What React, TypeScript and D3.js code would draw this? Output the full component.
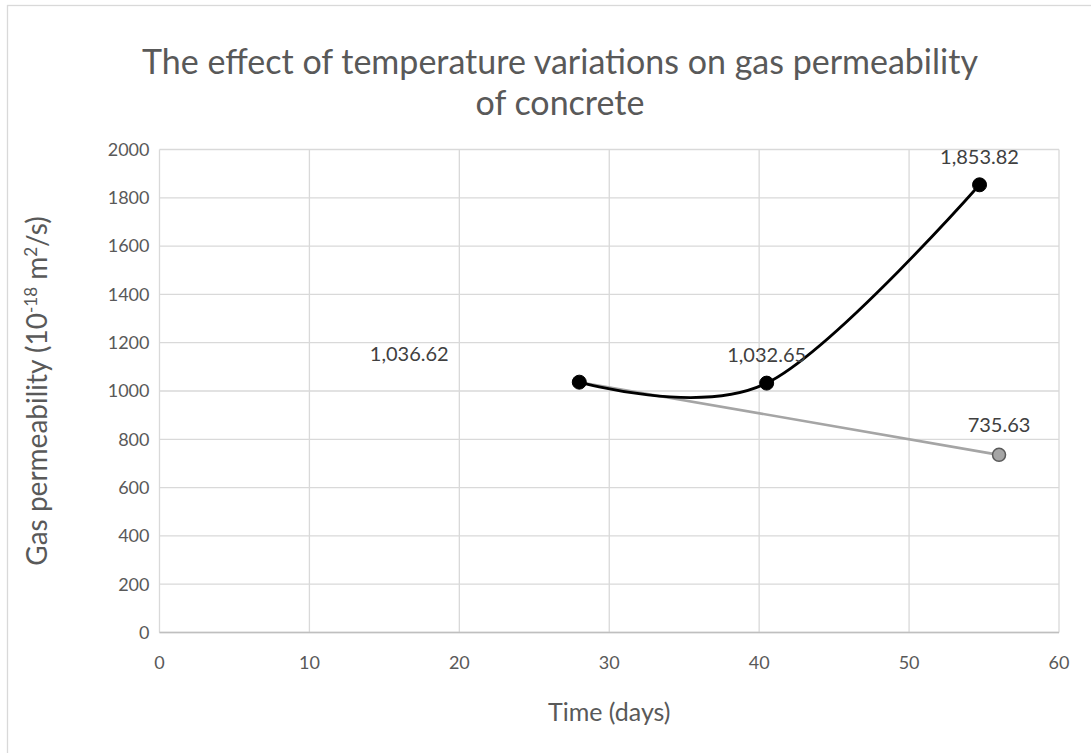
import * as d3 from 'd3';

// series
const blackDays = [28, 40.5, 54.7];
const blackPerm = [1036.62, 1032.65, 1853.82];
const grayDays = [28, 56];
const grayPerm = [1036.62, 735.63];

const xTicks = [0, 10, 20, 30, 40, 50, 60];
const yTicks = [0, 200, 400, 600, 800, 1000, 1200, 1400, 1600, 1800, 2000];

const titleLines = ['The effect of temperature variations on gas permeability', 'of concrete'];

const width = 1091;
const height = 753;
const font = 'Lato, "Open Sans", sans-serif';

export default function App() {
  const margin = { top: 149.5, right: 32, bottom: 120.5, left: 159.5 };
  const innerW = width - margin.left - margin.right;
  const innerH = height - margin.top - margin.bottom;

  const x = d3.scaleLinear().domain([0, 60]).range([0, innerW]);
  const y = d3.scaleLinear().domain([0, 2000]).range([innerH, 0]);

  const blackPts = blackDays.map((d, i) => ({ d, v: blackPerm[i] }));
  const grayPts = grayDays.map((d, i) => ({ d, v: grayPerm[i] }));

  const smooth = d3.line<{ d: number; v: number }>()
    .x(p => x(p.d))
    .y(p => y(p.v))
    .curve(d3.curveCardinal.tension(0));
  const straight = d3.line<{ d: number; v: number }>()
    .x(p => x(p.d))
    .y(p => y(p.v));

  const fmt = d3.format(',.2f');

  // label offsets (style only)
  const blackLabelDx = [-170, 0, 0];

  return (
    <svg width={width} height={height} style={{ display: 'block', position: 'absolute', left: 0, top: 0 }}>
      <rect x={0} y={0} width={width} height={height} fill="#fff" />
      <rect x={7.5} y={5.5} width={width + 20} height={height + 20} fill="#fff" stroke="#d9d9d9" strokeWidth={1.3} />

      <g fontFamily={font} fill="#595959" textAnchor="middle">
        {titleLines.map((t, i) => (
          <text key={i} x={560} y={74 + i * 41} fontSize={34}>{t}</text>
        ))}
      </g>

      <g transform={`translate(${margin.left},${margin.top})`}>
        {yTicks.map(t => (
          <line key={'gy' + t} x1={0} x2={innerW} y1={y(t)} y2={y(t)} stroke="#d9d9d9" strokeWidth={1.3} />
        ))}
        {xTicks.map(t => (
          <line key={'gx' + t} x1={x(t)} x2={x(t)} y1={0} y2={innerH} stroke="#d9d9d9" strokeWidth={1.3} />
        ))}
        <line x1={0} x2={innerW} y1={innerH} y2={innerH} stroke="#bfbfbf" strokeWidth={1.5} />

        {yTicks.map(t => (
          <text key={'ty' + t} x={-10} y={y(t)} dy="0.35em" textAnchor="end" fontFamily={font} fontSize={18} fill="#595959">{t}</text>
        ))}
        {xTicks.map(t => (
          <text key={'tx' + t} x={x(t)} y={innerH + 30} dy="0.35em" textAnchor="middle" fontFamily={font} fontSize={18} fill="#595959">{t}</text>
        ))}

        <path d={straight(grayPts) || ''} fill="none" stroke="#a5a5a5" strokeWidth={2.6} />
        <path d={smooth(blackPts) || ''} fill="none" stroke="#000" strokeWidth={2.8} />

        {grayPts.slice(1).map((p, i) => (
          <circle key={'gp' + i} cx={x(p.d)} cy={y(p.v)} r={6.5} fill="#a5a5a5" stroke="#595959" strokeWidth={1.5} />
        ))}
        {blackPts.map((p, i) => (
          <circle key={'bp' + i} cx={x(p.d)} cy={y(p.v)} r={7} fill="#000" stroke="#000" strokeWidth={1} />
        ))}

        {blackPts.map((p, i) => (
          <text key={'bl' + i} x={x(p.d) + blackLabelDx[i]} y={y(p.v) - 28} dy="0.35em" textAnchor="middle" fontFamily={font} fontSize={20} fill="#404040">{fmt(p.v)}</text>
        ))}
        {grayPts.slice(1).map((p, i) => (
          <text key={'gl' + i} x={x(p.d)} y={y(p.v) - 30} dy="0.35em" textAnchor="middle" fontFamily={font} fontSize={20} fill="#404040">{fmt(p.v)}</text>
        ))}
      </g>

      <text transform={`translate(37,${margin.top + innerH / 2}) rotate(-90)`} dy="0.35em" textAnchor="middle" fontFamily={font} fontSize={28} fill="#595959">
        Gas permeability (10<tspan baseline-shift="super" fontSize={17}>-18</tspan> m<tspan baseline-shift="super" fontSize={17}>2</tspan>/s)
      </text>
      <text x={margin.left + innerW / 2} y={712} dy="0.35em" textAnchor="middle" fontFamily={font} fontSize={25} fill="#595959">Time (days)</text>
    </svg>
  );
}
